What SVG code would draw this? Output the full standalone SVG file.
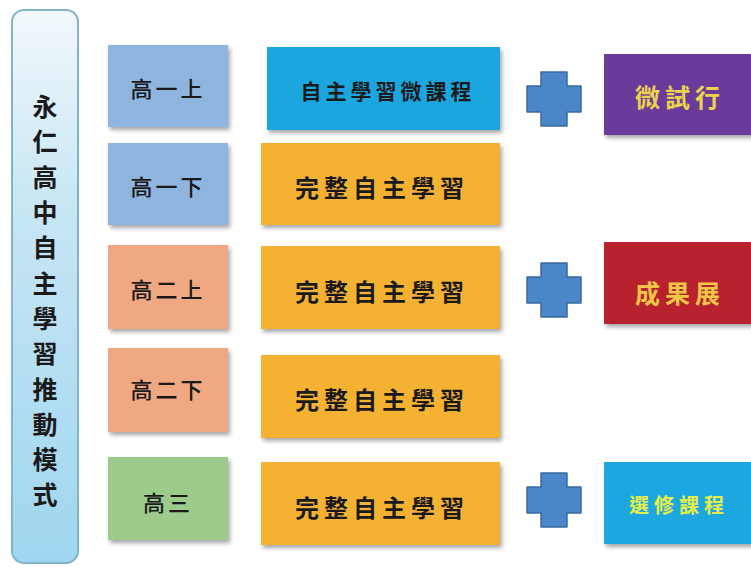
<svg xmlns="http://www.w3.org/2000/svg" width="751" height="568" viewBox="0 0 751 568">
<style>
text{font-family:"Noto Sans CJK TC","Noto Sans CJK SC",sans-serif;text-anchor:middle;dominant-baseline:central;}
.dk{fill:#1a1a1a;font-weight:700;}
.yr{font-size:22px;letter-spacing:3px;font-weight:500;}
.mid{font-size:24px;letter-spacing:5px;}
.side{font-size:25px;font-weight:700;letter-spacing:5px;}
.box{filter:url(#sh);}
.plus{fill:#4a86c8;stroke:#3a6a9e;stroke-width:1.5;stroke-linejoin:round;}
</style>
<defs>
<filter id="sh" x="-10%" y="-10%" width="125%" height="130%">
<feDropShadow dx="2" dy="3" stdDeviation="2" flood-color="#000" flood-opacity="0.35"/>
</filter>
<linearGradient id="bar" x1="0" y1="0" x2="0" y2="1">
<stop offset="0" stop-color="#f2f8fb"/>
<stop offset="0.35" stop-color="#c8e6f4"/>
<stop offset="1" stop-color="#9fd6ef"/>
</linearGradient>
<path id="plusShape" d="M-13,-27 H13 V-13 H27 V13 H13 V27 H-13 V13 H-27 V-13 H-13 Z"/>
</defs>
<rect width="751" height="568" fill="#ffffff"/>

<g id="title-bar">
<rect x="12" y="10" width="66" height="553" rx="12" fill="url(#bar)" stroke="#7fb4c9" stroke-width="2"/>
<text class="dk" font-size="25" x="45"><tspan x="45" y="105">永</tspan><tspan x="45" y="140">仁</tspan><tspan x="45" y="176">高</tspan><tspan x="45" y="211">中</tspan><tspan x="45" y="246">自</tspan><tspan x="45" y="282">主</tspan><tspan x="45" y="317">學</tspan><tspan x="45" y="352">習</tspan><tspan x="45" y="388">推</tspan><tspan x="45" y="423">動</tspan><tspan x="45" y="458">模</tspan><tspan x="45" y="493">式</tspan></text>
</g>

<g id="year-1a">
<rect class="box" x="108" y="45" width="120" height="82" fill="#8fb5de"/>
<text class="dk yr" x="168" y="87">高一上</text>
</g>
<g id="year-1b">
<rect class="box" x="108" y="143" width="120" height="82" fill="#8fb5de"/>
<text class="dk yr" x="168" y="185">高一下</text>
</g>
<g id="year-2a">
<rect class="box" x="108" y="245" width="120" height="84" fill="#f0a882"/>
<text class="dk yr" x="168" y="288">高二上</text>
</g>
<g id="year-2b">
<rect class="box" x="108" y="348" width="120" height="84" fill="#f0a882"/>
<text class="dk yr" x="168" y="388">高二下</text>
</g>
<g id="year-3">
<rect class="box" x="108" y="457" width="120" height="83" fill="#9ccb8b"/>
<text class="dk yr" x="168" y="501">高三</text>
</g>

<g id="micro-course">
<rect class="box" x="267" y="47" width="233" height="83" fill="#1aa6df"/>
<text class="dk" font-size="21" letter-spacing="4" x="388" y="90">自主學習微課程</text>
</g>
<g id="full-1b">
<rect class="box" x="261" y="143" width="239" height="82" fill="#f5b130"/>
<text class="dk mid" x="382" y="186">完整自主學習</text>
</g>
<g id="full-2a">
<rect class="box" x="261" y="246" width="239" height="83" fill="#f5b130"/>
<text class="dk mid" x="382" y="290">完整自主學習</text>
</g>
<g id="full-2b">
<rect class="box" x="261" y="355" width="239" height="83" fill="#f5b130"/>
<text class="dk mid" x="382" y="398">完整自主學習</text>
</g>
<g id="full-3">
<rect class="box" x="261" y="462" width="239" height="83" fill="#f5b130"/>
<text class="dk mid" x="382" y="506">完整自主學習</text>
</g>

<g id="plus-signs">
<use href="#plusShape" class="plus" x="554" y="99"/>
<use href="#plusShape" class="plus" x="554" y="290"/>
<use href="#plusShape" class="plus" x="554" y="500"/>
</g>

<g id="trial">
<rect class="box" x="604" y="54" width="160" height="81" fill="#6b3a9b"/>
<text class="side" x="680" y="96" fill="#ecd44a">微試行</text>
</g>
<g id="exhibition">
<rect class="box" x="604" y="242" width="160" height="82" fill="#b8232d"/>
<text class="side" x="680" y="292" fill="#efc648">成果展</text>
</g>
<g id="elective">
<rect class="box" x="604" y="462" width="160" height="82" fill="#1ea7e0"/>
<text x="679" y="504" font-size="20" font-weight="700" letter-spacing="5" fill="#e4ee48">選修課程</text>
</g>
</svg>
